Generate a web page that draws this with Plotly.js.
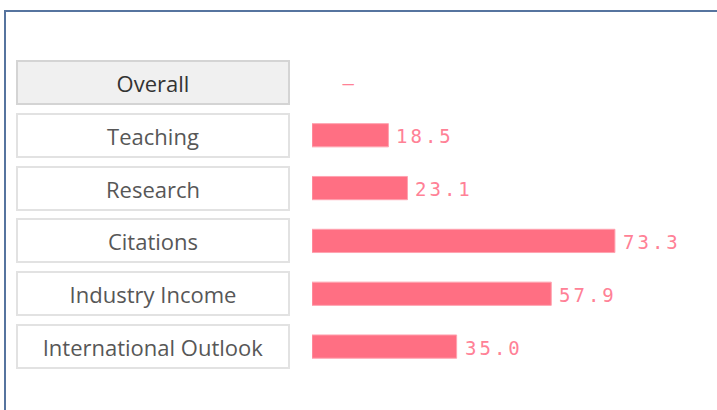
<!DOCTYPE html>
<html>
<head>
<meta charset="utf-8">
<script src="https://cdn.plot.ly/plotly-3.0.1.min.js"></script>
<style>
  html, body { margin: 0; padding: 0; background: #ffffff; }
  #wrap { position: relative; width: 717px; height: 410px; overflow: hidden; }
  #chart { position: absolute; left: 0; top: 0; width: 717px; height: 410px; }
  #frame { position: absolute; left: 4px; top: 10px; width: 800px; height: 500px;
           border-left: 2px solid #56749f; border-top: 2px solid #56749f; pointer-events: none; }
</style>
</head>
<body>
<div id="wrap">
  <div id="chart"></div>
  <div id="frame"></div>
</div>
<script>
// ---- data ----
const categories = ["Overall", "Teaching", "Research", "Citations", "Industry Income", "International Outlook"];
const scores = [null, 18.5, 23.1, 73.3, 57.9, 35.0];
const scoreLabels = ["–", "18.5", "23.1", "73.3", "57.9", "35.0"];

// ---- layout constants ----
const W = 717, H = 410;
const ML = 312, MR = 0, MT = 56, MB = 37;
const plotW = W - ML - MR;
const boxCenterPx = 153;

const annotations = [];
categories.forEach((c, i) => {
  const isOverall = i === 0;
  annotations.push({
    xref: "paper", yref: "y",
    x: (boxCenterPx - ML) / plotW, y: c,
    xanchor: "center", yanchor: "middle",
    text: c, showarrow: false,
    width: 270, height: 41,
    borderwidth: 2, borderpad: 0,
    bordercolor: isOverall ? "#d4d4d4" : "#e2e2e2",
    bgcolor: isOverall ? "#f0f0f0" : "#ffffff",
    font: { family: "Open Sans", size: 22, color: isOverall ? "#333333" : "#575757" }
  });
  annotations.push({
    xref: "x", yref: "y",
    x: scores[i] === null ? 0 : scores[i], y: c,
    xanchor: "left", yanchor: "middle",
    xshift: scores[i] === null ? 30 : 12,
    yshift: -1,
    text: scoreLabels[i], showarrow: false,
    font: { family: "DejaVu Sans Mono", size: 19, color: "#ff8196" }
  });
});

const trace = {
  type: "bar", orientation: "h",
  y: categories, x: scores,
  width: 0.44,
  marker: { color: "#ff6f83", line: { color: "#ffa3b0", width: 1 } },
  hoverinfo: "none"
};

const layout = {
  width: W, height: H,
  margin: { l: ML, r: MR, t: MT, b: MB, pad: 0 },
  paper_bgcolor: "rgba(0,0,0,0)", plot_bgcolor: "rgba(0,0,0,0)",
  showlegend: false,
  xaxis: { range: [0, 98], visible: false, fixedrange: true },
  yaxis: { type: "category", categoryorder: "array", categoryarray: categories,
           range: [5.5, -0.5], visible: false, fixedrange: true },
  annotations: annotations
};

Plotly.newPlot("chart", [trace], layout, { displayModeBar: false, staticPlot: true }).then(() => {
  document.querySelectorAll(".annotation-text").forEach(t => {
    if (/^[0-9.]+$/.test(t.textContent) || t.textContent === "–") t.style.letterSpacing = "3px";
  });
});
</script>
</body>
</html>
